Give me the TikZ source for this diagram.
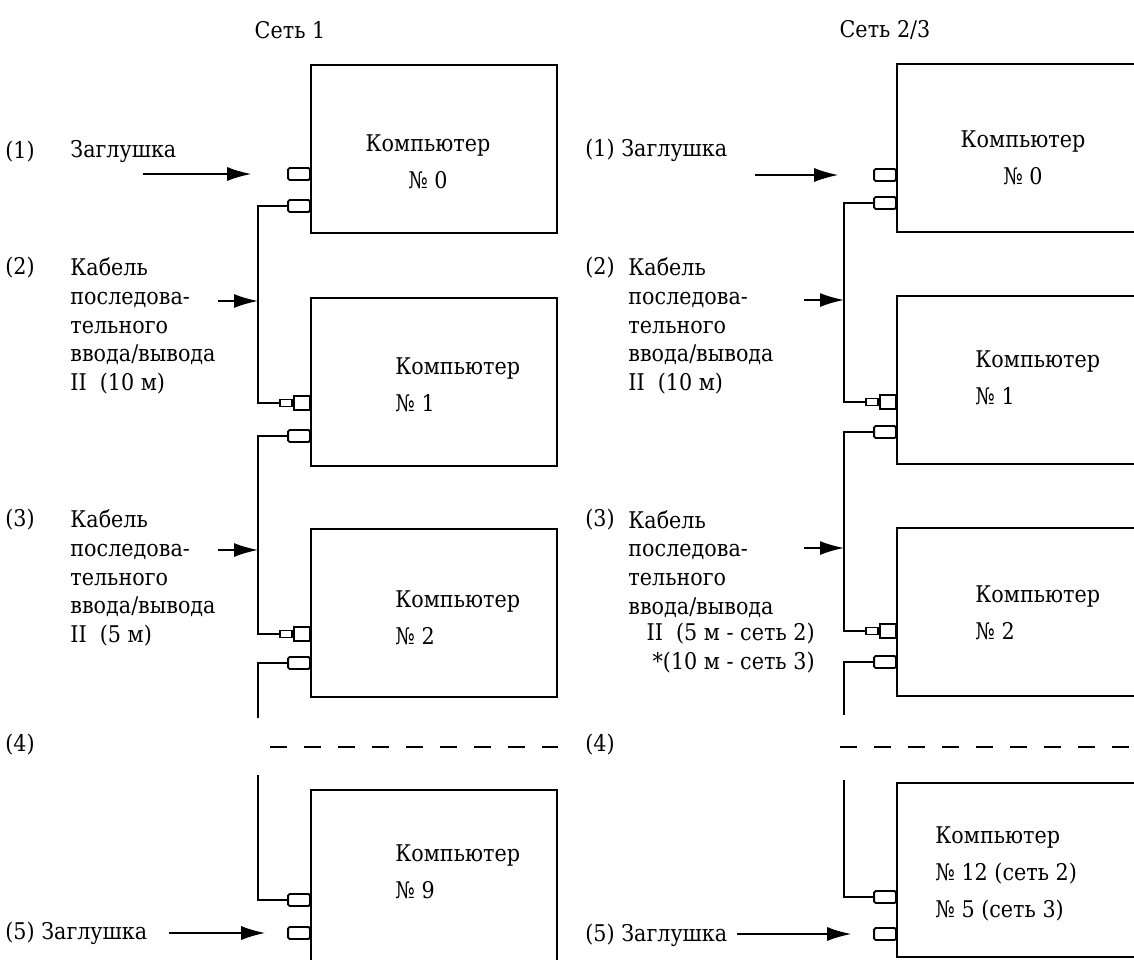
\documentclass[tikz,border=0pt]{standalone}
\usepackage{fontspec}
\setmainfont[FakeStretch=0.9]{DejaVu Serif}
\usetikzlibrary{arrows.meta,positioning,calc}
\tikzset{
  pcbox/.style={rectangle, draw, line width=1.1pt, minimum width=123pt, minimum height=84pt, inner sep=0pt},
  jack/.style={rectangle, rounded corners=0.8pt, draw, line width=0.9pt, minimum width=11pt, minimum height=6pt, inner sep=0pt, anchor=east},
  plugbody/.style={rectangle, draw, line width=0.9pt, minimum width=8pt, minimum height=7pt, inner sep=0pt, anchor=east},
  plugtip/.style={rectangle, draw, line width=0.9pt, minimum width=6pt, minimum height=3.5pt, inner sep=0pt, anchor=east},
  cable/.style={line width=0.9pt},
  arr/.style={-{Latex[length=12pt,width=7pt]}, line width=0.8pt},
  lbl/.style={font=\fontsize{11.5}{14.4}\selectfont, inner sep=0pt, anchor=west, align=left},
  sep/.style={line width=0.9pt, dash pattern=on 8.5pt off 8.5pt},
}
\begin{document}
\begin{tikzpicture}[x=0.5pt, y=-0.5pt]
    \clip (0,0) rectangle (1134,959);
    % --- Сеть 1 ---
    \node[lbl, anchor=center] (h1) at (290,30) {Сеть 1};
    \node[pcbox] (L0) at (434,149) {};
    \node[pcbox] (L1) at (434,382) {};
    \node[pcbox] (L2) at (434,613) {};
    \node[pcbox, minimum height=92pt] (L9) at (434,882) {};
    \node[lbl, anchor=center, align=center] (tL0) at (428,162) {Компьютер\\[4pt]№ 0};
    \node[lbl, align=left] (tL1) at (395,385) {Компьютер\\[4pt]№ 1};
    \node[lbl, align=left] (tL2) at (395,618) {Компьютер\\[4pt]№ 2};
    \node[lbl, align=left] (tL9) at (395,872) {Компьютер\\[4pt]№ 9};
    \node[jack] (L0a) at (311,174) {};
    \node[jack] (L0b) at (311,206) {};
    \node[plugbody] (P1) at (311,403) {};
    \node[plugtip] (P1t) at (P1.west) {};
    \node[jack] (L1b) at (311,436) {};
    \node[plugbody] (P2) at (311,634) {};
    \node[plugtip] (P2t) at (P2.west) {};
    \node[jack] (L2b) at (311,663) {};
    \node[jack] (L9a) at (311,900) {};
    \node[jack] (L9b) at (311,933) {};
    \coordinate (busL1) at (258,301);
    \coordinate (busL2) at (258,550);
    \coordinate (endL2) at (258,718);
    \coordinate (endL9) at (258,775);
    \draw[cable] (L0b.west) -| (busL1) |- (P1t.west);
    \draw[cable] (L1b.west) -| (busL2) |- (P2t.west);
    \draw[cable] (L2b.west) -| (endL2);
    \draw[cable] (endL9) |- (L9a.west);
    \draw[sep] (270,747) -- (558,747);
    \node[lbl] (n1) at (5,152) {(1)};
    \node[lbl] (z1) at (70,152) {Заглушка};
    \node[lbl] (n2) at (5,268) {(2)};
    \node[lbl] (k2) at (70,326) {Кабель\\последова-\\тельного\\ввода/вывода\\II~~(10 м)};
    \node[lbl] (n3) at (5,520) {(3)};
    \node[lbl] (k3) at (70,578) {Кабель\\последова-\\тельного\\ввода/вывода\\II~~(5 м)};
    \node[lbl] (n4) at (5,745) {(4)};
    \node[lbl] (z5) at (5,933) {(5) Заглушка};
    \draw[arr] ($(L0a.west)+(-144,0)$) -- ($(L0a.west)+(-36,0)$);
    \draw[arr] ($(busL1)+(-40,0)$) -- (busL1);
    \draw[arr] ($(busL2)+(-40,0)$) -- (busL2);
    \draw[arr] ($(L9b.west)+(-118,0)$) -- ($(L9b.west)+(-22,0)$);
    % --- Сеть 2/3 ---
    \node[lbl, anchor=center] (h2) at (885,30) {Сеть 2/3};
    \node[pcbox] (R0) at (1020,148) {};
    \node[pcbox] (R1) at (1020,380) {};
    \node[pcbox] (R2) at (1020,612) {};
    \node[pcbox, minimum height=87pt] (R12) at (1020,870) {};
    \node[lbl, anchor=center, align=center] (tR0) at (1023,158) {Компьютер\\[4pt]№ 0};
    \node[lbl, align=left] (tR1) at (975,378) {Компьютер\\[4pt]№ 1};
    \node[lbl, align=left] (tR2) at (975,613) {Компьютер\\[4pt]№ 2};
    \node[lbl, align=left] (tR12) at (935,874) {Компьютер\\[4pt]№ 12 (сеть 2)\\[4pt]№ 5 (сеть 3)};
    \node[jack] (R0a) at (897,175) {};
    \node[jack] (R0b) at (897,203) {};
    \node[plugbody] (Q1) at (897,402) {};
    \node[plugtip] (Q1t) at (Q1.west) {};
    \node[jack] (R1b) at (897,432) {};
    \node[plugbody] (Q2) at (897,631) {};
    \node[plugtip] (Q2t) at (Q2.west) {};
    \node[jack] (R2b) at (897,662) {};
    \node[jack] (R12a) at (897,897) {};
    \node[jack] (R12b) at (897,934) {};
    \coordinate (busR1) at (844,300);
    \coordinate (busR2) at (844,548);
    \coordinate (endR2) at (844,715);
    \coordinate (endR12) at (844,780);
    \draw[cable] (R0b.west) -| (busR1) |- (Q1t.west);
    \draw[cable] (R1b.west) -| (busR2) |- (Q2t.west);
    \draw[cable] (R2b.west) -| (endR2);
    \draw[cable] (endR12) |- (R12a.west);
    \draw[sep] (840,747) -- (1134,747);
    \node[lbl] (m1) at (585,150) {(1) Заглушка};
    \node[lbl] (m2) at (585,268) {(2)};
    \node[lbl] (c2) at (628,326) {Кабель\\последова-\\тельного\\ввода/вывода\\II~~(10 м)};
    \node[lbl] (m3) at (585,520) {(3)};
    \node[lbl] (c3) at (628,564) {Кабель\\последова-\\тельного\\ввода/вывода};
    \node[lbl, anchor=east, align=right] (c3b) at (815,648) {II~~(5 м - сеть 2)\\*(10 м - сеть 3)};
    \node[lbl] (m4) at (585,745) {(4)};
    \node[lbl] (m5) at (585,935) {(5) Заглушка};
    \draw[arr] ($(R0a.west)+(-118,0)$) -- ($(R0a.west)+(-35,0)$);
    \draw[arr] ($(busR1)+(-40,0)$) -- (busR1);
    \draw[arr] ($(busR2)+(-40,0)$) -- (busR2);
    \draw[arr] ($(R12b.west)+(-136,0)$) -- ($(R12b.west)+(-22,0)$);
  \end{tikzpicture}
\end{document}
